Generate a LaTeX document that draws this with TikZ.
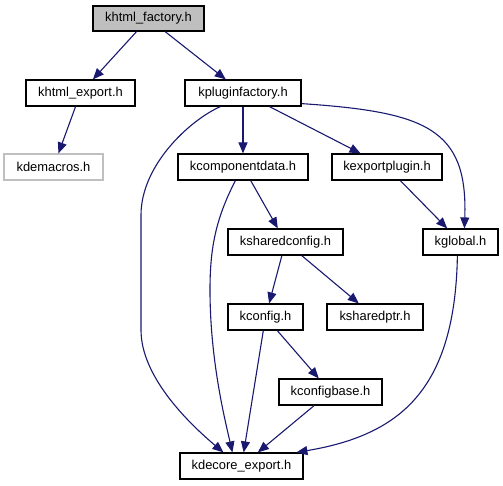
\documentclass[tikz,border=0pt]{standalone}
\usepackage{fontspec}
\setmainfont{Liberation Sans}
\usetikzlibrary{arrows.meta,calc}
\definecolor{edgecol}{HTML}{191970}
\definecolor{grayfill}{HTML}{BFBFBF}
\tikzset{
  hbox/.style={draw=black, line width=1.2pt, fill=white, inner sep=0pt, minimum height=26pt,
    font=\fontsize{12.9pt}{14pt}\selectfont, text=black},
  edge/.style={draw=edgecol, line width=1.1pt, -{Triangle[length=11pt,width=9pt]}},
}
\begin{document}
\begin{tikzpicture}[x=1pt,y=-1pt]
\useasboundingbox (0,0) rectangle (503,485);
\node[hbox, fill=grayfill, minimum width=111pt, minimum height=25pt] (kf) at (148.5,18.5) {khtml\_factory.h};
\node[hbox, minimum width=109pt] (ke) at (80.5,93) {khtml\_export.h};
\node[hbox, minimum width=116pt] (kpf) at (243,93) {kpluginfactory.h};
\node[hbox, draw=grayfill, minimum width=99pt] (kdm) at (53.5,167) {kdemacros.h};
\node[hbox, minimum width=130pt] (kcd) at (243,167) {kcomponentdata.h};
\node[hbox, minimum width=110pt] (kep) at (387,167) {kexportplugin.h};
\node[hbox, minimum width=115pt] (ksc) at (285.5,242) {ksharedconfig.h};
\node[hbox, minimum width=75pt] (kgl) at (460.5,242) {kglobal.h};
\node[hbox, minimum width=75pt] (kc) at (265.5,317) {kconfig.h};
\node[hbox, minimum width=96pt] (ksp) at (375,317) {ksharedptr.h};
\node[hbox, minimum width=103pt] (kcb) at (330.5,392) {kconfigbase.h};
\node[hbox, minimum width=123pt] (kde) at (241.5,466) {kdecore\_export.h};

\draw[edge] (kf) -- (ke);
\draw[edge] (kf) -- (kpf);
\draw[edge] (ke) -- (kdm);
\draw[edge] (kpf) -- (kcd);
\draw[edge] (kpf) -- (kep);
\draw[edge] (kcd) -- (ksc);
\draw[edge] (ksc) -- (kc);
\draw[edge] (ksc) -- (ksp);
\draw[edge] (kep) -- (kgl);
\draw[edge] (kc) -- (kde);
\draw[edge] (kc) -- (kcb);
\draw[edge] (kcb) -- (kde);

% curved edges
\draw[edge] ($(kpf.south east)+(0,-3)$) .. controls (425,112) and (468,128) .. ($(kgl.north west)+(42,0)$);
\draw[edge] ($(kpf.south west)+(36,0)$) .. controls (190,120) and (141,165) .. (141,215)
   -- (141,330) .. controls (141,375) and (185,420) .. ($(kde.north west)+(44,0)$);
\draw[edge] ($(kcd.south west)+(58,0)$) .. controls (215,220) and (210,250) .. (210,290)
   .. controls (210,360) and (225,420) .. ($(kde.north west)+(53,0)$);
\draw[edge] ($(kgl.south west)+(35,0)$) .. controls (455,390) and (400,435) .. ($(kde.north west)+(117,0)$);
\end{tikzpicture}
\end{document}
